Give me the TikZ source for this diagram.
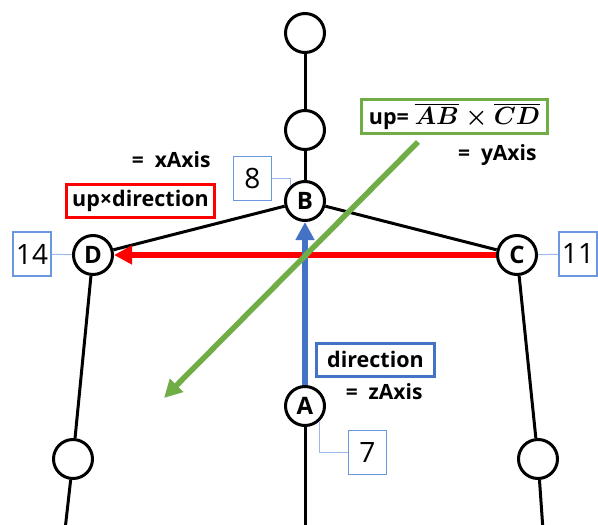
\documentclass[tikz,border=0pt]{standalone}
\usepackage{fontspec}
\setmainfont{Open Sans}
\usepackage{amsmath}
\usetikzlibrary{arrows.meta}
\definecolor{rojo}{HTML}{FF0000}
\definecolor{verde}{HTML}{70AD47}
\definecolor{azul}{HTML}{4472C4}
\definecolor{azulmedio}{HTML}{6A97DE}
\definecolor{azulclaro}{HTML}{9CBAEB}
\tikzset{
  joint/.style={circle, draw, line width=3pt, fill=white, minimum size=39pt, inner sep=0pt,
                font=\bfseries\fontsize{24}{24}\selectfont},
  bone/.style={line width=3pt},
  idbox/.style={draw=azulmedio, line width=1.4pt, minimum width=38pt, minimum height=44pt,
                inner sep=0pt, font=\fontsize{28}{28}\selectfont},
  idlink/.style={azulclaro, line width=1pt},
  etiqueta/.style={draw, line width=3pt, inner xsep=6pt, minimum height=33pt,
                font=\bfseries\fontsize{21.5}{21.5}\selectfont},
  nota/.style={anchor=east, font=\bfseries\fontsize{21}{21}\selectfont},
  flecha/.style={line width=5.5pt, -{Triangle[length=18pt, width=18pt]}}
}

\begin{document}
\begin{tikzpicture}[x=1pt, y=-1pt]
        \useasboundingbox (0,0) rectangle (598,525);
        \node[joint] (cabeza) at (305,33) {};
        \node[joint] (cuello) at (305,130) {};
        \node[joint] (B) at (305,201) {B};
        \node[joint] (D) at (93,255) {D};
        \node[joint] (C) at (517,255) {C};
        \node[joint] (A) at (305,406) {A};
        \node[joint] (codoizq) at (73,459) {};
        \node[joint] (cododer) at (538,459) {};
        \coordinate (manoizq) at (65,530);
        \coordinate (manoder) at (543,530);
        \coordinate (cadera) at (305,530);
        \draw[bone] (cabeza) -- (cuello) -- (B);
        \draw[bone] (B) -- (D) -- (codoizq) -- (manoizq);
        \draw[bone] (B) -- (C) -- (cododer) -- (manoder);
        \draw[bone] (A) -- (cadera);

        \node[idbox] (n8) at (252.5,178.5) {8};
        \node[idbox] (n14) at (32,254) {14};
        \node[idbox] (n11) at (578,254) {11};
        \node[idbox] (n7) at (367.5,452.5) {7};
        \draw[idlink] (n8.east) -| (B.135);
        \draw[idlink] (n14) -- (D);
        \draw[idlink] (C) -- (n11);
        \draw[idlink] (A.-45) |- (n7.west);

        \coordinate (upini) at (418,142);
        \coordinate (upfin) at (164,398);
        \draw[flecha, rojo] (C) -- (D);
        \draw[flecha, azul] (A) -- (B);
        \draw[flecha, verde] (upini) -- (upfin);

        \node[etiqueta, draw=rojo] (cruz) at (140.5,200.5) {up×direction};
        \node[nota] (xeje) at (214,160) {=\ \ xAxis};
        \node[etiqueta, draw=verde, inner xsep=7pt] (up) at (454.5,116.5) {up= {\fontsize{23}{23}\selectfont\boldmath$\overline{AB} \times \overline{CD}$}};
        \node[nota] (yeje) at (540,155) {=\ \ yAxis};
        \node[etiqueta, draw=azul, inner xsep=11pt] (dir) at (375.5,359.5) {direction};
        \node[nota] (zeje) at (426,392) {=\ \ zAxis};
      \end{tikzpicture}
\end{document}
